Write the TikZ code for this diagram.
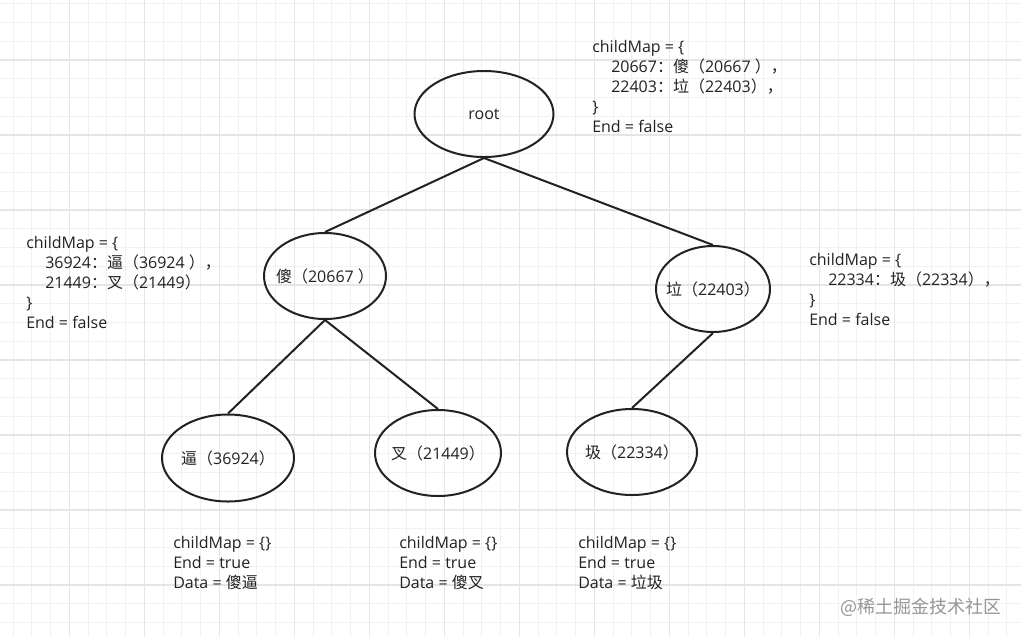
\documentclass[tikz,border=0pt]{standalone}
\usepackage{fontspec}
\setmainfont{Open Sans}
\newfontfamily\cjk{Noto Sans CJK SC}
\newcommand\zh[1]{{\cjk #1}}
\newcommand\lab[1]{\makebox[0pt]{#1}}
\usetikzlibrary{shapes.geometric}
\definecolor{minorg}{RGB}{241,241,241}
\definecolor{majorg}{RGB}{229,229,229}
\definecolor{ink}{RGB}{34,34,34}
\definecolor{wmgray}{RGB}{150,150,150}
\begin{document}
\begin{tikzpicture}[x=0.75pt,y=-0.75pt,
  tnode/.style={ellipse, draw=ink, line width=1.5pt, inner sep=0pt, text=ink, font=\fontsize{12}{15}\selectfont},
  info/.style={anchor=north west, align=left, inner sep=0pt, text=ink, font=\fontsize{12}{15}\selectfont},
  edge/.style={draw=ink, line width=1.5pt},
  minorline/.style={draw=minorg, line width=0.75pt},
  majorline/.style={draw=majorg, line width=0.9pt}]
\useasboundingbox (0,0) rectangle (1021,637);
\fill[white] (0,0) rectangle (1021,637);
% grid
\foreach \i in {0,...,54} { \draw[minorline] ({13.05+18.75*\i},0) -- ({13.05+18.75*\i},637); }
\foreach \j in {0,...,33} { \draw[minorline] (0,{3.75+18.75*\j}) -- (1021,{3.75+18.75*\j}); }
\foreach \i in {0,...,12} { \draw[majorline] ({69.3+75*\i},0) -- ({69.3+75*\i},637); }
\foreach \j in {0,...,7} { \draw[majorline] (0,{60+75*\j}) -- (1021,{60+75*\j}); }
% tree nodes
\node[tnode, minimum width=139*0.75pt, minimum height=86*0.75pt] (root) at (484,114) {\lab{root}};
\node[tnode, minimum width=122*0.75pt, minimum height=86*0.75pt] (sha) at (325,276) {\lab{\zh{傻（}20667 \zh{）}}};
\node[tnode, minimum width=114*0.75pt, minimum height=86*0.75pt] (la) at (713,289) {\lab{\zh{垃（}22403\zh{）}}};
\node[tnode, minimum width=132*0.75pt, minimum height=87*0.75pt] (bi) at (228,458) {\lab{\zh{逼（}36924\zh{）}}};
\node[tnode, minimum width=126*0.75pt, minimum height=86*0.75pt] (cha) at (438,453) {\lab{\zh{叉（}21449\zh{）}}};
\node[tnode, minimum width=130*0.75pt, minimum height=86*0.75pt] (ji) at (632,452) {\lab{\zh{圾（}22334\zh{）}}};
% edges
\draw[edge] (root.south) -- (sha.north);
\draw[edge] (root.south) -- (la.north);
\draw[edge] (sha.south) -- (bi.north);
\draw[edge] (sha.south) -- (cha.north);
\draw[edge] (la.south) -- (ji.north);
% info blocks
\node[info] (infoRoot) at (592,40.5) {childMap = \{\\
\hspace*{14.25pt}20667\zh{：傻（}20667 \zh{），}\\
\hspace*{14.25pt}22403\zh{：垃（}22403\zh{），}\\
\}\\
End = false};
\node[info] (infoSha) at (26,236.5) {childMap = \{\\
\hspace*{14.25pt}36924\zh{：逼（}36924 \zh{），}\\
\hspace*{14.25pt}21449\zh{：叉（}21449\zh{）}\\
\}\\
End = false};
\node[info] (infoLa) at (809,253) {childMap = \{\\
\hspace*{14.25pt}22334\zh{：圾（}22334\zh{），}\\
\}\\
End = false};
\node[info] (infoBi) at (173,536.5) {childMap = \{\}\\
End = true\\
Data = \zh{傻逼}};
\node[info] (infoCha) at (399,536.5) {childMap = \{\}\\
End = true\\
Data = \zh{傻叉}};
\node[info] (infoJi) at (578,536.5) {childMap = \{\}\\
End = true\\
Data = \zh{垃圾}};
% watermark
\node[text=wmgray, font=\cjk\fontsize{13.5}{15}\selectfont, inner sep=0pt] (wm) at (921,607) {@稀土掘金技术社区};
\end{tikzpicture}
\end{document}
